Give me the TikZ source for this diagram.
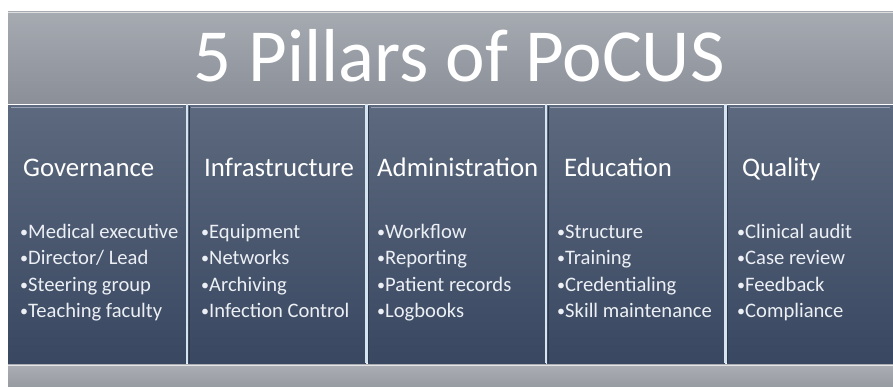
\documentclass[tikz,border=0pt]{standalone}
\usepackage{fontspec}
\setmainfont{Carlito}
\usepackage{xcolor}
\usetikzlibrary{positioning}

\definecolor{bartop}{RGB}{166,170,177}
\definecolor{barbot}{RGB}{138,143,152}
\definecolor{pillartop}{RGB}{92,105,126}
\definecolor{pillarbot}{RGB}{57,71,97}
\definecolor{pillarhl}{RGB}{150,162,180}
\definecolor{seplight}{RGB}{214,228,242}
\definecolor{basetop}{RGB}{172,175,181}
\definecolor{basebot}{RGB}{150,154,161}
\definecolor{itemtext}{RGB}{236,240,245}

\newcommand{\blt}{\makebox[8pt][l]{\raisebox{0.7pt}{\fontsize{16}{16}\selectfont•}}}

\tikzset{
  pillar/.style={rectangle, inner sep=0pt, minimum width=178pt, minimum height=258pt,
    top color=pillartop, bottom color=pillarbot, anchor=north west},
  head/.style={text=white, inner sep=0pt, anchor=base west,
    font=\fontsize{26.8}{30}\selectfont},
  item/.style={text=itemtext, inner sep=0pt, anchor=base west,
    font=\fontsize{20.6}{24}\selectfont},
}

\begin{document}
\begin{tikzpicture}[x=1pt,y=-1pt]
\useasboundingbox (0,0) rectangle (893,387);

% title bar
\shade[top color=bartop, bottom color=barbot] (8,12) rectangle (893,104);
\draw[white!75!gray, line width=1pt] (8,12.5) -- (893,12.5);
\node[text=white, inner sep=0pt, anchor=base, font=\fontsize{75}{80}\selectfont]
  (title) at (459,82) {5 Pillars of PoCUS};

% base bar
\shade[top color=basetop, bottom color=basebot] (8,364) rectangle (893,387);
\draw[white!80!gray, line width=1.6pt] (8,365.5) -- (893,365.5);

% the five pillars
\node[pillar] (gov) at (8,105) {};
\node[pillar] (inf) at (188,105) {};
\node[pillar] (adm) at (368,105) {};
\node[pillar] (edu) at (547,105) {};
\node[pillar, minimum width=166pt] (qua) at (727,105) {};

% bevel along the top of each pillar
\foreach \p in {gov,inf,adm,edu,qua}
  \draw[pillarhl, line width=1.4pt] ([xshift=3pt,yshift=-2.5pt]\p.north west) -- ([xshift=-3pt,yshift=-2.5pt]\p.north east);

% light gaps between pillars
\foreach \x in {187,366.5,546,725.5} {
  \draw[pillarbot!80!black, line width=1pt] (\x+2,106) -- (\x+2,363);
  \draw[seplight, line width=2.2pt] (\x,104) -- (\x,363);
}

% headings
\node[head] (gov-h) at (23,177) {Governance};
\node[head] (inf-h) at (204,177) {Infrastructure};
\node[head] (adm-h) at (377,177) {Administration};
\node[head] (edu-h) at (564,177) {Education};
\node[head] (qua-h) at (742,177) {Quality};

% bullet lists
\foreach \t [count=\i] in {Medical executive,Director/ Lead,Steering group,Teaching faculty}
  \node[item] (gov-\i) at (20,{238+(\i-1)*26.5}) {\blt\t};
\foreach \t [count=\i] in {Equipment,Networks,Archiving,Infection Control}
  \node[item] (inf-\i) at (201,{238+(\i-1)*26.5}) {\blt\t};
\foreach \t [count=\i] in {Workflow,Reporting,Patient records,Logbooks}
  \node[item] (adm-\i) at (377,{238+(\i-1)*26.5}) {\blt\t};
\foreach \t [count=\i] in {Structure,Training,Credentialing,Skill maintenance}
  \node[item] (edu-\i) at (557,{238+(\i-1)*26.5}) {\blt\t};
\foreach \t [count=\i] in {Clinical audit,Case review,Feedback,Compliance}
  \node[item] (qua-\i) at (737,{238+(\i-1)*26.5}) {\blt\t};
\end{tikzpicture}
\end{document}
